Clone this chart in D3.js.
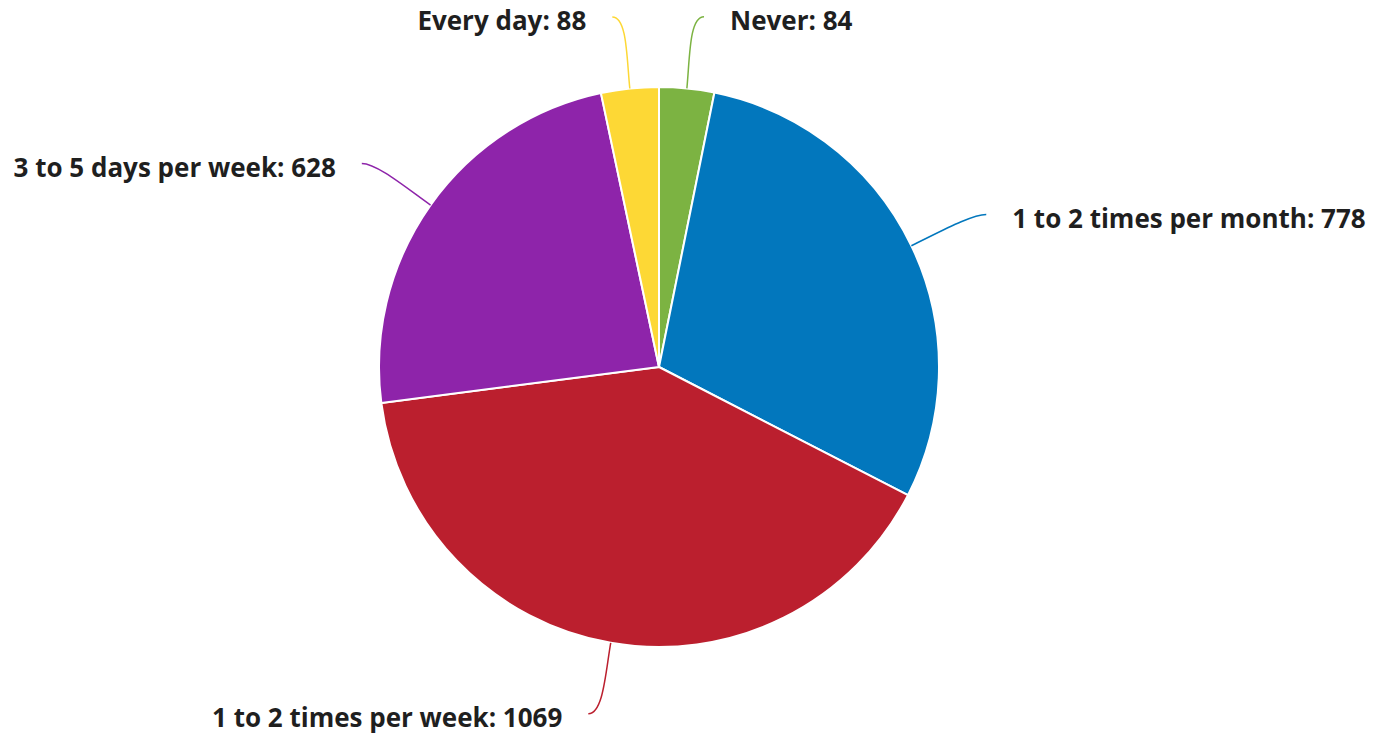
<!DOCTYPE html>
<html>
<head>
<meta charset="utf-8">
<script src="https://cdn.jsdelivr.net/npm/d3@7/dist/d3.min.js"></script>
<style>
  html, body { margin: 0; padding: 0; background: #fff; }
  svg { display: block; }
  text { font-family: "Open Sans", "Noto Sans", sans-serif; font-weight: 700; }
</style>
</head>
<body>
<svg id="chart" width="1373" height="734"></svg>
<script>
const categories = ["Never", "1 to 2 times per month", "1 to 2 times per week", "3 to 5 days per week", "Every day"];
const values = [84, 778, 1069, 628, 88];
const colors = ["#7cb342", "#0277bd", "#bb1f2e", "#8e24aa", "#fdd835"];

const W = 1373, H = 734;
const cx = 659, cy = 367, radius = 280;
const labelRadius = 352;
const push = 10;
const gap = 26;
const fontSize = 26;

const svg = d3.select("#chart");
const data = categories.map((c, i) => ({ name: c, value: values[i], color: colors[i] }));

const pie = d3.pie().value(d => d.value).sort(null);
const arcs = pie(data);
const arc = d3.arc().innerRadius(0).outerRadius(radius);

const g = svg.append("g").attr("transform", `translate(${cx},${cy})`);

g.selectAll("path.slice")
  .data(arcs)
  .enter().append("path")
  .attr("class", "slice")
  .attr("d", arc)
  .attr("fill", d => d.data.color)
  .attr("stroke", "#fff")
  .attr("stroke-width", 2)
  .attr("stroke-linejoin", "round");

arcs.forEach(d => {
  const a = (d.startAngle + d.endAngle) / 2;
  const sx = Math.sin(a), sy = -Math.cos(a);
  const side = sx >= 0 ? 1 : -1;
  const ex0 = sx * radius, ey0 = sy * radius;
  const ex = sx * labelRadius + side * push;
  const ey = sy * labelRadius;
  const c1x = sx * (radius + 30), c1y = sy * (radius + 30);
  const c2x = ex - side * 15, c2y = ey;
  const p = d3.path();
  p.moveTo(ex0, ey0);
  p.bezierCurveTo(c1x, c1y, c2x, c2y, ex, ey);
  g.append("path")
    .attr("d", p.toString())
    .attr("fill", "none")
    .attr("stroke", d.data.color)
    .attr("stroke-width", 1.5);
  g.append("text")
    .attr("x", ex + side * gap)
    .attr("y", ey + 4)
    .attr("dy", "0.35em")
    .attr("text-anchor", side > 0 ? "start" : "end")
    .attr("font-size", fontSize)
    .attr("fill", "#1f1f1f")
    .text(`${d.data.name}: ${d.data.value}`);
});
</script>
</body>
</html>
